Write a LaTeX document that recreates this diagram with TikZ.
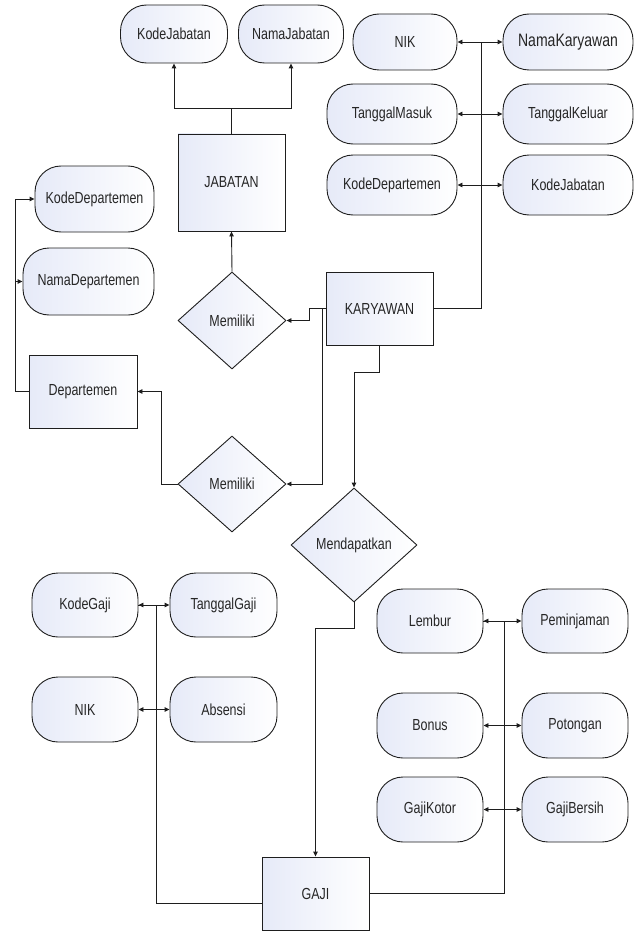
\documentclass[tikz,border=0pt]{standalone}
\usepackage{fontspec}
\setmainfont{Liberation Sans}[FakeStretch=0.78]
\usetikzlibrary{arrows.meta,shapes.geometric}
\definecolor{shadeblue}{RGB}{230,234,248}
\definecolor{linegray}{RGB}{30,30,30}
\tikzset{
  base/.style={draw=linegray,line width=0.9pt,left color=shadeblue,right color=white,
    inner sep=0pt,font=\fontsize{16}{18}\selectfont,text=black!85},
  pill/.style={base,rectangle,rounded corners=26pt,minimum width=106pt,minimum height=62pt},
  ent/.style={base,rectangle,minimum width=107pt,minimum height=73pt},
  rel/.style={base,diamond,minimum width=108pt,minimum height=97pt},
  conn/.style={line width=0.9pt,draw=linegray},
  tip/.style={conn,-{Triangle[length=5pt,width=4.5pt]}},
  tips/.style={conn,{Triangle[length=5pt,width=4.5pt]}-{Triangle[length=5pt,width=4.5pt]}},
}
\begin{document}
\begin{tikzpicture}[x=1pt,y=-1pt]
\useasboundingbox (0,0) rectangle (636,931);
% JABATAN group
\node[pill,minimum width=107pt,minimum height=58pt] (kj) at (174,34) {KodeJabatan};
\node[pill,minimum width=105pt,minimum height=58pt] (nj) at (291,34) {NamaJabatan};
\node[ent,minimum height=97pt] (jab) at (231.5,182.5) {JABATAN};
% KARYAWAN attributes
\node[pill,minimum width=104pt,minimum height=56pt] (nik) at (405,42) {NIK};
\node[pill,minimum width=130pt,minimum height=56pt,font=\fontsize{18}{20}\selectfont] (nk) at (568,42) {NamaKaryawan};
\node[pill,minimum width=130pt,minimum height=60pt] (tm) at (392,114) {TanggalMasuk};
\node[pill,minimum width=130pt,minimum height=60pt] (tk) at (568,114) {TanggalKeluar};
\node[pill,minimum width=130pt,minimum height=60pt] (kd) at (392,185) {KodeDepartemen};
\node[pill,minimum width=130pt,minimum height=60pt] (kjr) at (568,185) {KodeJabatan};
\node[ent] (kar) at (379.5,308.5) {KARYAWAN};
% Departemen group
\node[pill,minimum width=119pt,minimum height=66pt] (kdl) at (94.5,199) {KodeDepartemen};
\node[pill,minimum width=131pt,minimum height=67pt] (ndl) at (88.5,281.5) {NamaDepartemen};
\node[ent,minimum width=108pt] (dep) at (83,391.5) {Departemen};
% relations
\node[rel] (m1) at (232,320.5) {Memiliki};
\node[rel,minimum height=96pt] (m2) at (232,484) {Memiliki};
\node[rel,minimum width=126pt,minimum height=114pt] (mend) at (354,545) {Mendapatkan};
% GAJI
\node[ent] (gaji) at (315.5,893.5) {GAJI};
\node[pill,minimum height=64pt] (kg) at (85,605) {KodeGaji};
\node[pill,minimum width=107pt,minimum height=64pt] (tg) at (223.5,605) {TanggalGaji};
\node[pill,minimum height=65pt] (nikg) at (85,709.5) {NIK};
\node[pill,minimum width=107pt,minimum height=65pt] (abs) at (223.5,709.5) {Absensi};
\node[pill,minimum height=64pt] (lem) at (430,621) {Lembur};
\node[pill,minimum height=64pt] (pem) at (575,621) {Peminjaman};
\node[pill,minimum height=65pt] (bon) at (430,725.5) {Bonus};
\node[pill,minimum height=65pt] (pot) at (575,725.5) {Potongan};
\node[pill,minimum height=65pt] (gk) at (430,809.5) {GajiKotor};
\node[pill,minimum height=65pt] (gb) at (575,809.5) {GajiBersih};
% helper coordinates
\coordinate (j1) at (231.5,108);
\coordinate (v1) at (481,42);
\coordinate (k1) at (309,308.5);
\coordinate (k2) at (322,308.5);
\coordinate (d1) at (161,484);
\coordinate (d2) at (15,391.5);
\coordinate (d3) at (15,281.5);
\coordinate (g1) at (156,903);
\coordinate (g2) at (504,893.5);
% connectors
\draw[conn] (jab.north) -- (j1);
\draw[tip] (j1) -| (kj.south);
\draw[tip] (j1) -| (nj.south);
\draw[conn] (kar.east) -| (v1);
\draw[tips] (nik.east) -- (nk.west);
\draw[tips] (tm.east) -- (tk.west);
\draw[tips] (kd.east) -- (kjr.west);
\draw[tip] (kar.west) -- (k1) |- (m1.east);
\draw[tip] (k2) |- (m2.east);
\draw[tip] (m1.north) -- (jab.south);
\draw[tip] (m2.west) -- (d1) |- (dep.east);
\draw[tip] (dep.west) -- (d2) |- (kdl.west);
\draw[tip] (d3) -- (ndl.west);
\draw[tip] (kar.south) -- ++(0,27) -| (mend.north);
\draw[tip] (mend.south) -- ++(0,26) -| (gaji.north);
\draw[conn] ([yshift=-9.5pt]gaji.west) -- (g1) |- (kg.east);
\draw[tips] (kg.east) -- (tg.west);
\draw[tips] (nikg.east) -- (abs.west);
\draw[conn] (gaji.east) -- (g2) |- (lem.east);
\draw[tips] (lem.east) -- (pem.west);
\draw[tips] (bon.east) -- (pot.west);
\draw[tips] (gk.east) -- (gb.west);
\end{tikzpicture}
\end{document}
